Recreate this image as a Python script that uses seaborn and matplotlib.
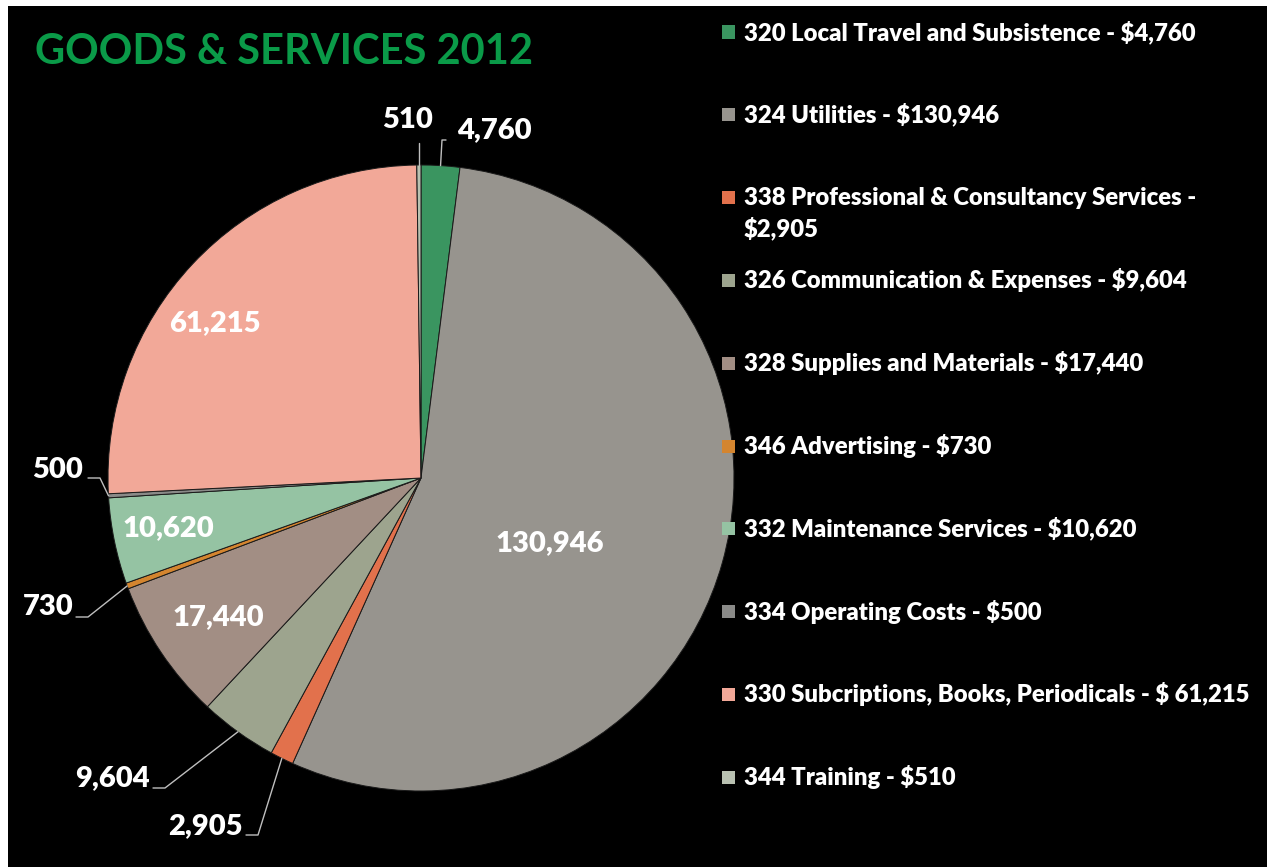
import matplotlib
matplotlib.use("Agg")
import matplotlib.pyplot as plt
import seaborn as sns
import numpy as np
from matplotlib.patches import Rectangle

# ---- data ----
codes = ["320", "324", "338", "326", "328", "346", "332", "334", "330", "344"]
names = ["Local Travel and Subsistence", "Utilities", "Professional & Consultancy Services",
         "Communication & Expenses", "Supplies and Materials", "Advertising",
         "Maintenance Services", "Operating Costs", "Subcriptions, Books, Periodicals", "Training"]
values = [4760, 130946, 2905, 9604, 17440, 730, 10620, 500, 61215, 510]
legend_labels = [
    "320 Local Travel and Subsistence - $4,760",
    "324 Utilities - $130,946",
    "338 Professional & Consultancy Services -\n$2,905",
    "326 Communication & Expenses - $9,604",
    "328 Supplies and Materials - $17,440",
    "346 Advertising - $730",
    "332 Maintenance Services - $10,620",
    "334 Operating Costs - $500",
    "330 Subcriptions, Books, Periodicals - $ 61,215",
    "344 Training - $510",
]
colors = ["#3a9560", "#97948e", "#e2714c", "#9da48e", "#a28e84",
          "#d4852f", "#95c3a3", "#8a8a88", "#f2a898", "#b9c1b1"]
title = "GOODS & SERVICES 2012"

sns.set_style("dark")
plt.rcParams["font.family"] = ["Lato", "DejaVu Sans"]
palette = sns.color_palette(colors)

W, H = 1267, 867
fig = plt.figure(figsize=(W / 100, H / 100), dpi=100, facecolor="white")
# black panel
fig.patches.append(Rectangle((8 / W, 0), 1, 1 - 6 / H, transform=fig.transFigure,
                             facecolor="black", edgecolor="none", zorder=-10))

cx, cy, R = 421, 478, 313
ax = fig.add_axes([(cx - R) / W, (H - cy - R) / H, 2 * R / W, 2 * R / H])
ax.set_facecolor("none")
wedges, _ = ax.pie(values, colors=palette, startangle=90, counterclock=False,
                   radius=1.0, wedgeprops=dict(edgecolor="#1a1a1a", linewidth=0.7))
ax.set_xlim(-1, 1)
ax.set_ylim(-1, 1)
ax.set_aspect("auto")
ax.axis("off")


def px2d(px, py):
    return ((px - cx) / R, (cy - py) / R)


def fmt(v):
    return f"{v:,}"


LFS = 21
WT = "heavy"
# inside labels: index -> text centre (pixels)
inside = {1: (550, 543), 8: (215, 323), 4: (218, 617), 6: (168, 528)}
for i, (px, py) in inside.items():
    x, y = px2d(px, py)
    ax.text(x, y, fmt(values[i]), ha="center", va="center", color="white",
            fontsize=LFS, fontweight=WT, clip_on=False)

# outside labels with leader lines: index -> (text centre px, elbow px or None)
outside = {
    9: ((408, 120), None),
    0: ((494, 130), (442, 140)),
    7: ((58, 470), (100, 478)),
    5: ((48, 607), (88, 617)),
    3: ((112, 778), (165, 788)),
    2: ((205, 826), (258, 835)),
}
for i, ((tx, ty), elbow) in outside.items():
    w = wedges[i]
    mid = np.deg2rad((w.theta1 + w.theta2) / 2)
    ex, ey = np.cos(mid) * 1.0, np.sin(mid) * 1.0
    x, y = px2d(tx, ty)
    ax.text(x, y, fmt(values[i]), ha="center", va="center", color="white",
            fontsize=LFS, fontweight=WT, clip_on=False)
    if elbow is None:
        bx, by = ex, ey + 22 / R
        ax.plot([ex, bx], [ey, by], color="#bfbfbf", lw=1, clip_on=False)
    else:
        bx, by = px2d(*elbow)
        if i == 0:
            sx = bx + 4 / R
        else:
            sx = bx - 12 / R
        ax.plot([sx, bx, ex], [by, by, ey], color="#bfbfbf", lw=1, clip_on=False)

# title
fig.text(35 / W, 1 - 52 / H, title, color="#0a9a48", fontsize=30, fontweight="bold",
         ha="left", va="center")

# legend (manual)
y0, dy = 32, 82.8
for i, lab in enumerate(legend_labels):
    py = y0 + i * dy
    fig.patches.append(Rectangle((722 / W, 1 - (py + 6.5) / H), 13 / W, 13 / H,
                                 transform=fig.transFigure, facecolor=palette[i],
                                 edgecolor="none"))
    lines = lab.split("\n")
    for k, ln in enumerate(lines):
        fig.text(744 / W, 1 - (py + k * 31) / H, ln, color="white", fontsize=17.2,
                 fontweight=WT, ha="left", va="center")

fig.savefig("out.png", dpi=100, facecolor="white")
